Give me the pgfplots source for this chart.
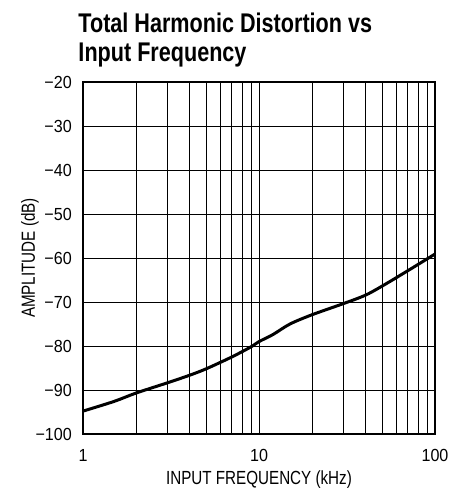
\documentclass[border=0pt]{standalone}
\usepackage{fontspec}
\setmainfont{Liberation Sans}[FakeStretch=0.8]
\newfontfamily\titlefont{Liberation Sans}[FakeStretch=0.8]
\newfontfamily\tickfont{Liberation Sans}[FakeStretch=0.92]
\usepackage{pgfplots}
\pgfplotsset{compat=1.18}
\begin{document}
\begin{tikzpicture}
\begin{axis}[
  scale only axis, width=352pt, height=352pt,
  xmode=log, xmin=1, xmax=100, ymin=-100, ymax=-20,
  xtick={1,10,100}, xticklabels={1,10,100},
  minor xtick={2,3,4,5,6,7,8,9,20,30,40,50,60,70,80,90},
  ytick={-100,-90,-80,-70,-60,-50,-40,-30,-20},
  yticklabels={−100,−90,−80,−70,−60,−50,−40,−30,−20},
  grid=both,
  major grid style={black, line width=0.8pt},
  minor grid style={black, line width=0.8pt},
  axis line style={line width=1.2pt},
  major tick length=0pt, minor tick length=0pt,
  ticklabel style={font=\tickfont\fontsize{17.5}{18}\selectfont},
  yticklabel style={anchor=east, inner sep=0pt, xshift=-11pt},
  xticklabel style={yshift=-11.5pt},
  clip=false,
]
\addplot[black, line width=3pt, smooth] coordinates {
 (1,-94.8) (1.5,-92.6) (2,-90.7) (3,-88.4) (4,-86.7) (5,-85.2) (7,-82.5)
 (9,-80.2) (10,-79.0) (12,-77.4) (15,-75.0) (20,-72.9) (30,-70.4)
 (40,-68.5) (50,-66.4) (70,-62.9) (100,-59.1)
};
\node[anchor=base, font=\fontsize{19}{20}\selectfont] at ([yshift=-50pt]axis description cs:0.5,0) {INPUT FREQUENCY (kHz)};
\node[anchor=base, rotate=90, font=\fontsize{19}{20}\selectfont] at ([xshift=-48pt]axis description cs:0,0.5) {AMPLITUDE (dB)};
\node[anchor=base west, inner sep=0pt, font=\titlefont\bfseries\fontsize{27}{29}\selectfont] at ([xshift=-4.7pt,yshift=49.7pt]axis description cs:0,1) {Total Harmonic Distortion vs};
\node[anchor=base west, inner sep=0pt, font=\titlefont\bfseries\fontsize{27}{29}\selectfont] at ([xshift=-4.7pt,yshift=20.3pt]axis description cs:0,1) {Input Frequency};
\end{axis}
\pgfresetboundingbox
\path[use as bounding box] ([xshift=-83pt,yshift=-55pt]current axis.south west) rectangle ++(465pt,489pt);
\end{tikzpicture}
\end{document}
